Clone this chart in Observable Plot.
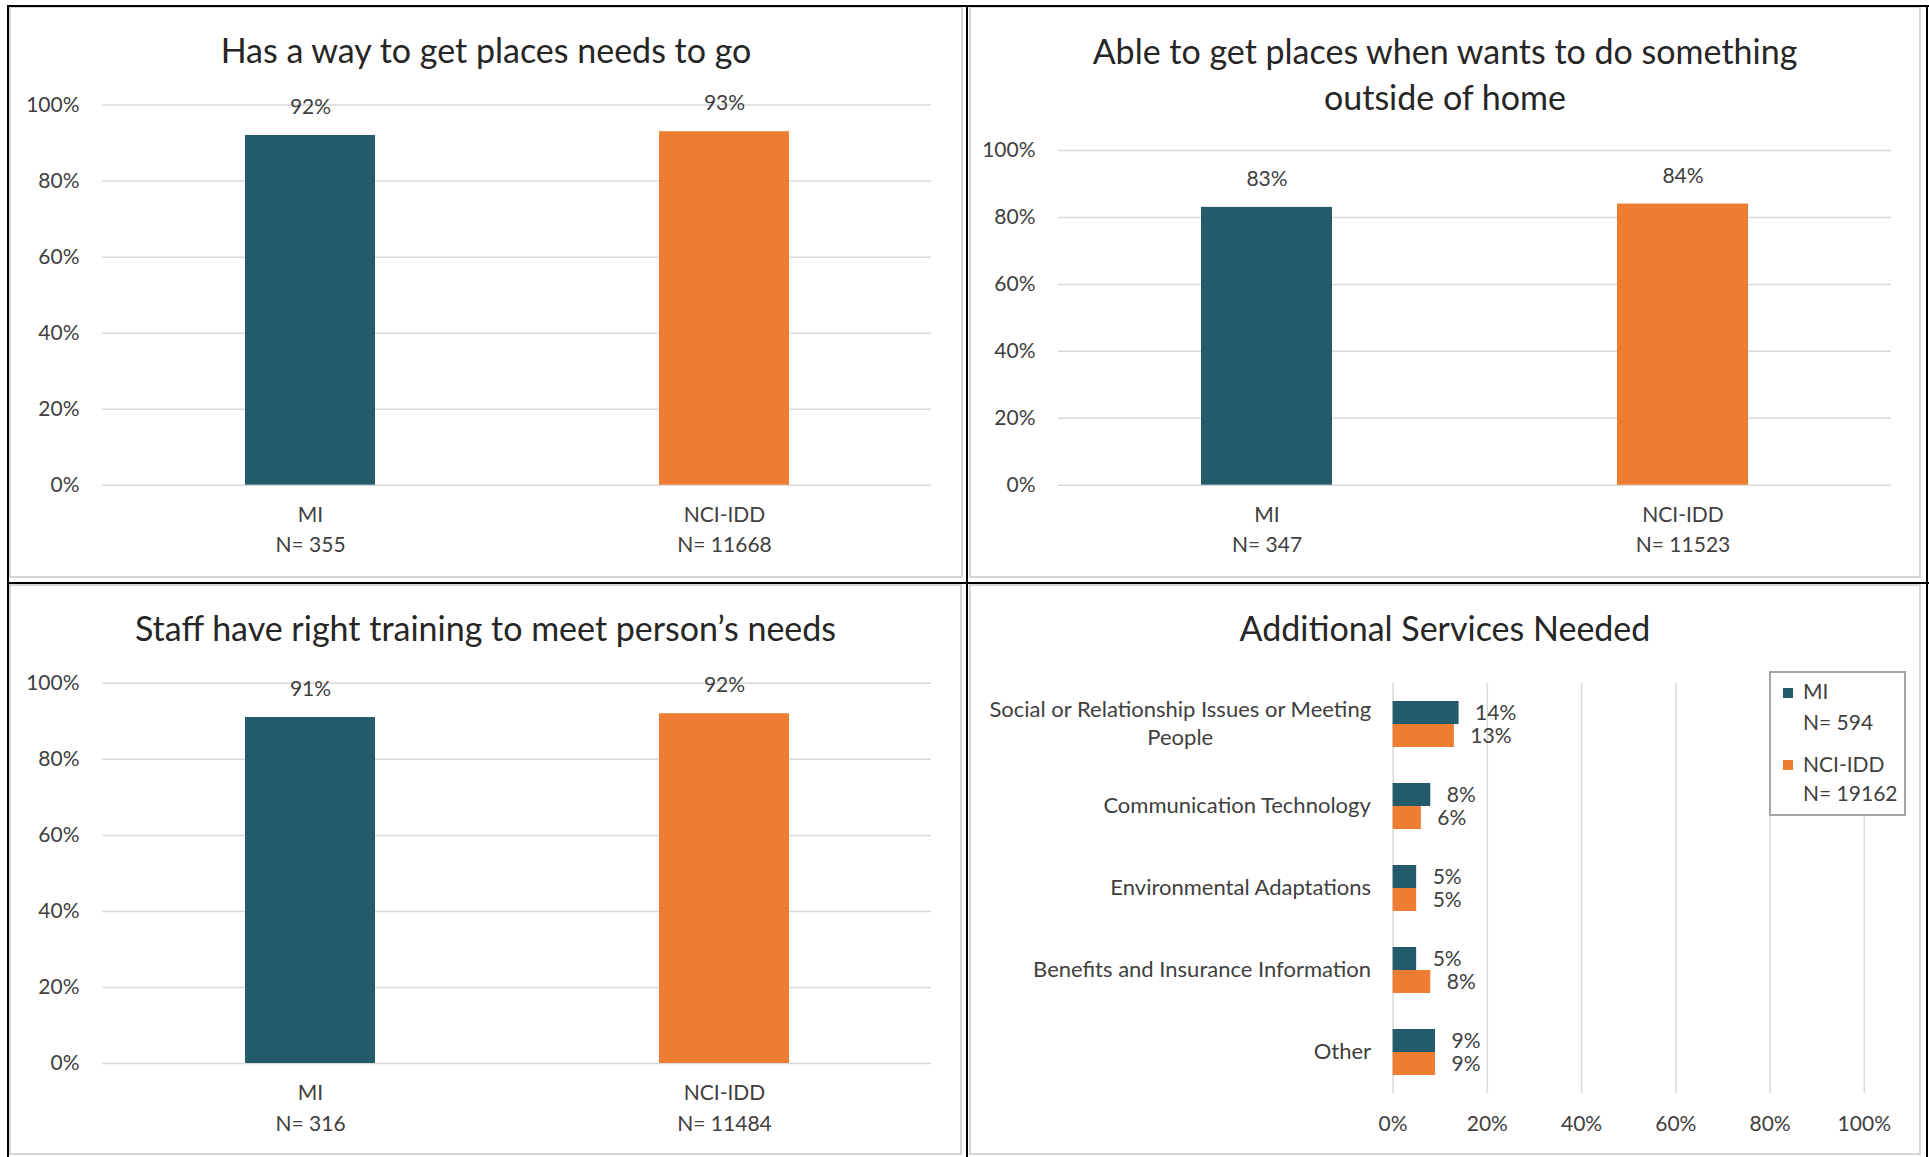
<!DOCTYPE html>
<html><head><meta charset="utf-8">
<script src="https://cdn.jsdelivr.net/npm/d3@7"></script>
<script src="https://cdn.jsdelivr.net/npm/@observablehq/plot@0.6"></script>
<style>
body{margin:0;background:#fff;font-family:Lato,sans-serif;}
#root{position:relative;width:1929px;height:1157px;overflow:hidden;background:#fff;}
.title{position:absolute;text-align:center;font-size:34px;color:#262626;line-height:46px;white-space:pre-line;}
.panel{position:absolute;border:2px solid #d6d6d6;box-sizing:border-box;}
.bline{position:absolute;background:#000;}
.plot{position:absolute;}
.legend{position:absolute;border:2px solid #a6a6a6;box-sizing:border-box;background:#fff;font-size:21px;color:#404040;}
.legend .row{position:absolute;left:0;white-space:nowrap;}
.legend .sw{position:absolute;width:10px;height:10px;}
</style></head><body><div id="root"></div><script>
// ---- data ----
const groups = ["MI", "NCI-IDD"];
const colors = ["#235B6B", "#ED7D31"];
const percentTicks = [0, 20, 40, 60, 80, 100];

const chart1Title = "Has a way to get places needs to go";
const chart1Values = [92, 93];
const chart1N = [355, 11668];

const chart2Title = "Able to get places when wants to do something\noutside of home";
const chart2Values = [83, 84];
const chart2N = [347, 11523];

const chart3Title = "Staff have right training to meet person’s needs";
const chart3Values = [91, 92];
const chart3N = [316, 11484];

const chart4Title = "Additional Services Needed";
const services = ["Social or Relationship Issues or Meeting\nPeople", "Communication Technology", "Environmental Adaptations", "Benefits and Insurance Information", "Other"];
const servicesMI = [14, 8, 5, 5, 9];
const servicesNCI = [13, 6, 5, 8, 9];
const servicesN = [594, 19162];

// ---- layout ----
const root = document.getElementById("root");
function div(cls, css, html) {
  const d = document.createElement("div");
  d.className = cls;
  Object.assign(d.style, css);
  if (html !== undefined) d.textContent = html;
  root.appendChild(d);
  return d;
}
// grey chart borders
div("panel", {left: "9px", top: "6px", width: "954px", height: "572px"});
div("panel", {left: "969px", top: "6px", width: "952px", height: "572px"});
div("panel", {left: "9px", top: "584px", width: "953px", height: "571px"});
div("panel", {left: "969px", top: "584px", width: "952px", height: "571px"});
// black cell lines
div("bline", {left: "7px", top: "5px", width: "1922px", height: "2px"});
div("bline", {left: "7px", top: "5px", width: "2px", height: "1152px"});
div("bline", {left: "966px", top: "5px", width: "2px", height: "1152px"});
div("bline", {left: "7px", top: "582px", width: "1922px", height: "2px"});
div("bline", {left: "1926px", top: "5px", width: "2px", height: "1152px"});

// titles
div("title", {left: "9px", width: "954px", top: "27px"}, chart1Title);
div("title", {left: "969px", width: "952px", top: "28px"}, chart2Title);
div("title", {left: "9px", width: "953px", top: "605px"}, chart3Title);
div("title", {left: "969px", width: "952px", top: "605px"}, chart4Title);

const FS = 21;
const baseStyle = {fontFamily: "Lato, sans-serif", fontSize: FS + "px", color: "#404040", background: "transparent", overflow: "visible"};

function columnChart(values, ns, pos) {
  const data = groups.map((g, i) => ({group: g, value: values[i]}));
  const svg = Plot.plot({
    width: pos.width, height: pos.height,
    marginLeft: pos.ml, marginRight: pos.mr, marginTop: pos.mt, marginBottom: pos.mb,
    style: baseStyle,
    x: {domain: groups, paddingInner: 0.686, paddingOuter: 0.343, axis: null},
    y: {domain: [0, 100], axis: null},
    color: {domain: groups, range: colors},
    marks: [
      Plot.gridY(percentTicks, {stroke: "#d9d9d9", strokeOpacity: 1, strokeWidth: 1.5}),
      Plot.barY(data, {x: "group", y: "value", fill: "group"}),
      Plot.text(data, {x: "group", y: "value", text: d => d.value + "%", dy: -28, fontSize: FS, fill: "#404040"}),
      Plot.axisY(percentTicks, {tickSize: 0, tickPadding: 23, tickFormat: d => d + "%", fontSize: FS, label: null}),
      Plot.axisX({tickSize: 0, tickPadding: 15, tickFormat: g => `${g}\nN= ${ns[groups.indexOf(g)]}`, fontSize: FS, lineHeight: 1.45, label: null})
    ]
  });
  const w = document.createElement("div");
  w.className = "plot";
  w.style.left = pos.left + "px"; w.style.top = pos.top + "px";
  w.appendChild(svg);
  root.appendChild(w);
}

columnChart(chart1Values, chart1N, {left: 10, top: 90, width: 945, height: 480, ml: 92, mr: 24, mt: 14.6, mb: 85.3});
columnChart(chart2Values, chart2N, {left: 970, top: 120, width: 945, height: 450, ml: 88, mr: 24, mt: 30, mb: 85.3});
columnChart(chart3Values, chart3N, {left: 10, top: 668, width: 945, height: 480, ml: 92, mr: 24, mt: 14.8, mb: 85});

// ---- chart 4: grouped horizontal bars ----
const data4 = services.flatMap((s, i) => [
  {service: s, group: groups[0], value: servicesMI[i]},
  {service: s, group: groups[1], value: servicesNCI[i]}
]);
const svg4 = Plot.plot({
  width: 945, height: 490,
  marginLeft: 422.6, marginRight: 51.2, marginTop: 22, marginBottom: 57,
  style: baseStyle,
  x: {domain: [0, 100], axis: null},
  y: {domain: groups, paddingInner: 0, paddingOuter: 0.78, axis: null},
  fy: {domain: services, padding: 0, axis: null},
  color: {domain: groups, range: colors},
  marks: [
    Plot.gridX(percentTicks, {stroke: "#d9d9d9", strokeOpacity: 1, strokeWidth: 1.5}),
    Plot.barX(data4, {x: "value", y: "group", fy: "service", fill: "group"}),
    Plot.text(data4, {x: "value", y: "group", fy: "service", text: d => d.value + "%", dx: 16, textAnchor: "start", fontSize: FS, fill: "#404040"}),
    Plot.axisX(percentTicks, {tickSize: 0, tickPadding: 23, tickFormat: d => d + "%", fontSize: FS, label: null}),
    Plot.axisFy({anchor: "left", tickSize: 0, tickPadding: 22, dy: -2.5, fontSize: 22, lineHeight: 1.25, label: null})
  ]
});
const w4 = document.createElement("div");
w4.className = "plot";
w4.style.left = "970px"; w4.style.top = "660px";
w4.appendChild(svg4);
root.appendChild(w4);
// center the lines of each category label within its right-aligned block (as in the original)
svg4.querySelectorAll('g[aria-label="fy-axis tick label"] text').forEach(t => {
  const bw = t.getBBox().width;
  t.setAttribute("text-anchor", "middle");
  t.setAttribute("transform", (t.getAttribute("transform") || "") + ` translate(${-bw / 2},0)`);
});

// legend
const leg = div("legend", {left: "1769px", top: "671px", width: "137px", height: "145px"});
groups.forEach((g, i) => {
  const sw = document.createElement("div");
  sw.className = "sw";
  Object.assign(sw.style, {left: "12px", top: (i === 0 ? 15 : 87) + "px", background: colors[i]});
  leg.appendChild(sw);
  const r1 = document.createElement("div");
  r1.className = "row"; r1.textContent = g;
  Object.assign(r1.style, {left: "32px", top: (i === 0 ? 5 : 78) + "px"});
  leg.appendChild(r1);
  const r2 = document.createElement("div");
  r2.className = "row"; r2.textContent = `N= ${servicesN[i]}`;
  Object.assign(r2.style, {left: "32px", top: (i === 0 ? 36 : 107) + "px"});
  leg.appendChild(r2);
});
</script></body></html>
